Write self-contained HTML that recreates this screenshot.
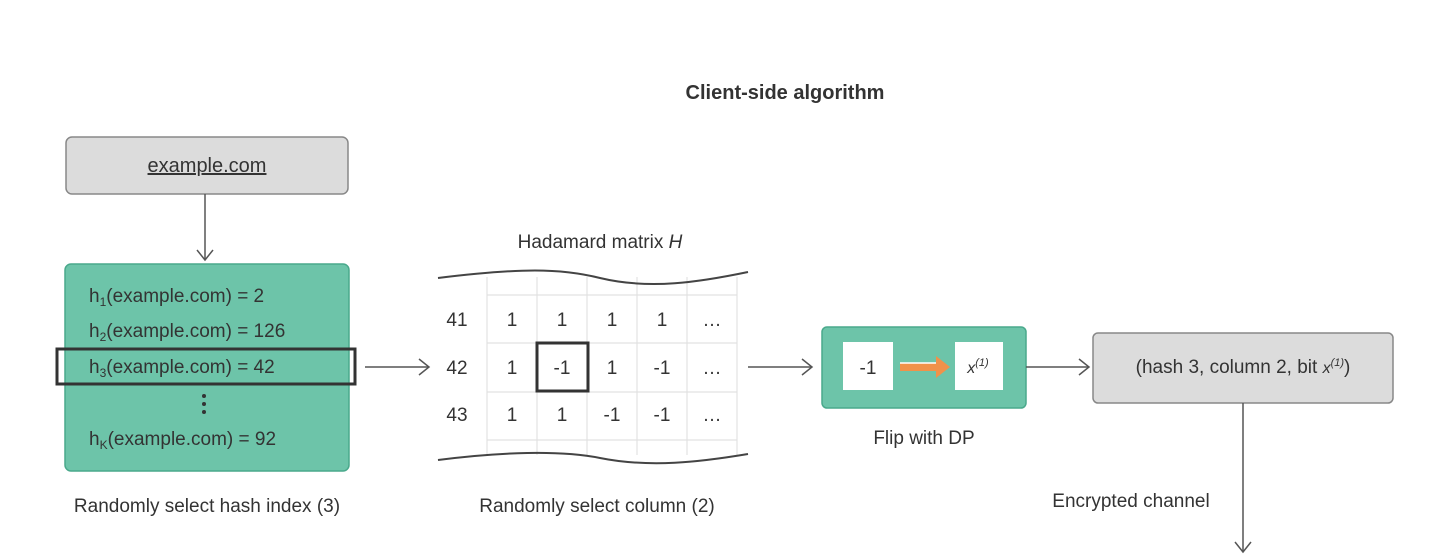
<!DOCTYPE html>
<html><head><meta charset="utf-8"><style>
body{margin:0;background:#fff;width:1434px;height:556px;overflow:hidden;font-family:"Liberation Sans",sans-serif}
svg{display:block}
text{font-family:"Liberation Sans",sans-serif;fill:#333}
</style></head><body>
<svg width="1434" height="556" viewBox="0 0 1434 556">
<text x="785" y="99" font-size="20" font-weight="bold" text-anchor="middle" fill="#222">Client-side algorithm</text>
<rect x="66" y="137" width="282" height="57" rx="6" fill="#dcdcdc" stroke="#888" stroke-width="1.5"/>
<text x="207" y="172" font-size="20" text-anchor="middle" text-decoration="underline">example.com</text>
<line x1="205" y1="194" x2="205" y2="259" stroke="#555" stroke-width="1.5"/>
<polyline points="197,250 205,260 213,250" fill="none" stroke="#555" stroke-width="1.5"/>
<rect x="65" y="264" width="284" height="207" rx="6" fill="#6dc4a9" stroke="#4aa98c" stroke-width="1.5"/>
<g font-size="19">
<text x="89" y="302">h<tspan font-size="12" dy="4">1</tspan><tspan dy="-4">(example.com) = 2</tspan></text>
<text x="89" y="337">h<tspan font-size="12" dy="4">2</tspan><tspan dy="-4">(example.com) = 126</tspan></text>
<text x="89" y="373">h<tspan font-size="12" dy="4">3</tspan><tspan dy="-4">(example.com) = 42</tspan></text>
<text x="89" y="445">h<tspan font-size="12" dy="4">K</tspan><tspan dy="-4">(example.com) = 92</tspan></text>
</g>
<circle cx="204" cy="396" r="2" fill="#333"/><circle cx="204" cy="404" r="2" fill="#333"/><circle cx="204" cy="412" r="2" fill="#333"/>
<rect x="57" y="349" width="298" height="35" fill="none" stroke="#333" stroke-width="3"/>
<line x1="365" y1="367" x2="429" y2="367" stroke="#555" stroke-width="1.5"/>
<polyline points="419,359 429,367 419,375" fill="none" stroke="#555" stroke-width="1.5"/>
<text x="207" y="512" font-size="19" text-anchor="middle">Randomly select hash index (3)</text>

<text x="600" y="248" font-size="19" text-anchor="middle">Hadamard matrix <tspan font-style="italic">H</tspan></text>
<g stroke="#e2e2e2" stroke-width="1.2">
<line x1="487" y1="277" x2="487" y2="455"/><line x1="537" y1="277" x2="537" y2="455"/><line x1="587" y1="277" x2="587" y2="455"/><line x1="637" y1="277" x2="637" y2="455"/><line x1="687" y1="277" x2="687" y2="455"/><line x1="737" y1="277" x2="737" y2="455"/>
<line x1="487" y1="295" x2="737" y2="295"/><line x1="487" y1="343" x2="737" y2="343"/><line x1="487" y1="392" x2="737" y2="392"/><line x1="487" y1="440" x2="737" y2="440"/>
</g>
<path d="M438,278 C520,268 560,268 600,278 C650,290 700,282 748,272" fill="none" stroke="#444" stroke-width="2"/>
<path d="M438,460 C500,452 560,450 600,458 C650,468 700,462 748,454" fill="none" stroke="#444" stroke-width="2"/>
<g font-size="19" text-anchor="middle">
<text x="457" y="326">41</text><text x="457" y="374">42</text><text x="457" y="421">43</text>
<text x="512" y="326">1</text><text x="562" y="326">1</text><text x="612" y="326">1</text><text x="662" y="326">1</text><text x="712" y="326">…</text>
<text x="512" y="374">1</text><text x="562" y="374">-1</text><text x="612" y="374">1</text><text x="662" y="374">-1</text><text x="712" y="374">…</text>
<text x="512" y="421">1</text><text x="562" y="421">1</text><text x="612" y="421">-1</text><text x="662" y="421">-1</text><text x="712" y="421">…</text>
</g>
<rect x="537" y="343" width="51" height="48" fill="none" stroke="#333" stroke-width="3"/>
<text x="597" y="512" font-size="19" text-anchor="middle">Randomly select column (2)</text>
<line x1="748" y1="367" x2="812" y2="367" stroke="#555" stroke-width="1.5"/>
<polyline points="802,359 812,367 802,375" fill="none" stroke="#555" stroke-width="1.5"/>

<rect x="822" y="327" width="204" height="81" rx="5" fill="#6dc4a9" stroke="#4aa98c" stroke-width="1.5"/>
<rect x="843" y="342" width="50" height="48" fill="#fff"/>
<rect x="955" y="342" width="48" height="48" fill="#fff"/>
<text x="868" y="374" font-size="19" text-anchor="middle">-1</text>
<text x="978" y="373" font-size="16" font-style="italic" text-anchor="middle">x<tspan font-size="11" dy="-7">(1)</tspan></text>
<rect x="900" y="363" width="40" height="8" fill="#f0924a"/>
<line x1="900" y1="363" x2="940" y2="363" stroke="#fff" stroke-width="1.5"/>
<polygon points="936,356 950,367 936,378" fill="#f0924a"/>
<text x="924" y="444" font-size="19" text-anchor="middle">Flip with DP</text>
<line x1="1026" y1="367" x2="1089" y2="367" stroke="#555" stroke-width="1.5"/>
<polyline points="1079,359 1089,367 1079,375" fill="none" stroke="#555" stroke-width="1.5"/>

<rect x="1093" y="333" width="300" height="70" rx="5" fill="#dcdcdc" stroke="#888" stroke-width="1.5"/>
<text x="1243" y="373" font-size="19" text-anchor="middle">(hash 3, column 2, bit <tspan font-style="italic" font-size="16">x</tspan><tspan font-style="italic" font-size="11" dy="-7">(1)</tspan><tspan dy="7">)</tspan></text>
<line x1="1243" y1="403" x2="1243" y2="552" stroke="#555" stroke-width="1.5"/>
<polyline points="1235,542 1243,552 1251,542" fill="none" stroke="#555" stroke-width="1.5"/>
<text x="1131" y="507" font-size="19" text-anchor="middle">Encrypted channel</text>
</svg>
</body></html>
